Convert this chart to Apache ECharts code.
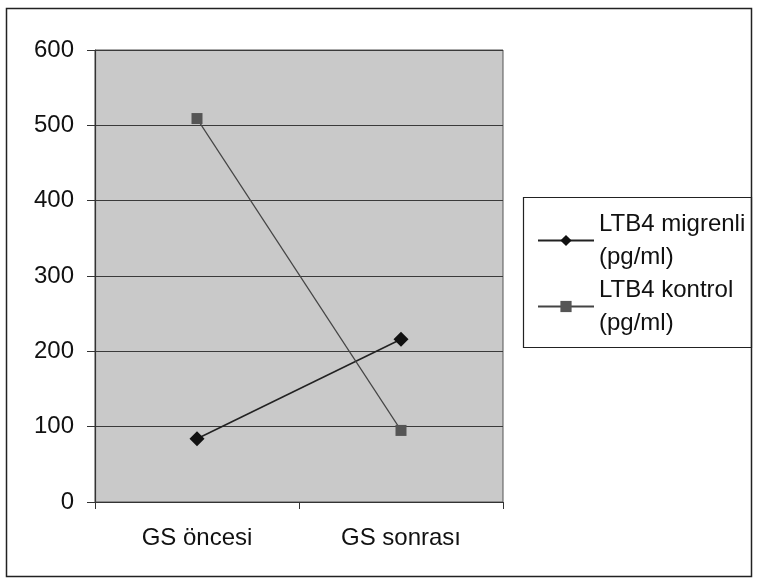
<!DOCTYPE html>
<html>
<head>
<meta charset="utf-8">
<script src="https://cdn.jsdelivr.net/npm/echarts@6/dist/echarts.min.js"></script>
<style>
  html, body { margin: 0; padding: 0; background: #fff; }
  #main { width: 759px; height: 582px; }
</style>
</head>
<body>
<div id="main"></div>
<script>
// veriler
var categories = ['GS öncesi', 'GS sonrası'];
var migrenli = [84, 216];
var kontrol = [509, 95];
var seriesNames = ['LTB4 migrenli\n(pg/ml)', 'LTB4 kontrol\n(pg/ml)'];

var chart = echarts.init(document.getElementById('main'));
var font = 'Liberation Sans, Arial, sans-serif';

chart.setOption({
  animation: false,
  backgroundColor: '#fff',
  textStyle: { fontFamily: font },
  grid: { left: 95, right: 256, top: 50, bottom: 80, show: true, backgroundColor: '#c9c9c9', borderWidth: 1, borderColor: '#555' },
  // dış çerçeve ve lejant kutusu
  graphic: [
    { type: 'rect', shape: { x: 6.5, y: 8.5, width: 745, height: 568 }, style: { fill: null, stroke: '#222', lineWidth: 1.5 }, z: -1 },
    { type: 'rect', shape: { x: 523.5, y: 197.5, width: 228, height: 150 }, style: { fill: null, stroke: '#222', lineWidth: 1.2 } }
  ],
  legend: {
    orient: 'vertical',
    left: 532,
    top: 186,
    itemWidth: 56,
    itemHeight: 14,
    itemGap: -33,
    textStyle: { fontSize: 24, lineHeight: 33, color: '#111', fontFamily: font, padding: [33, 0, 0, 0] },
    itemTextGap: 6,
    data: seriesNames
  },
  xAxis: {
    type: 'category',
    data: categories,
    boundaryGap: true,
    axisLine: { lineStyle: { color: '#333', width: 1.2 } },
    axisTick: { show: true, length: 7, lineStyle: { color: '#333' } },
    axisLabel: { fontSize: 24, color: '#111', margin: 24, fontFamily: font }
  },
  yAxis: {
    type: 'value',
    min: 0,
    max: 600,
    interval: 100,
    axisLine: { show: true, lineStyle: { color: '#333', width: 1.2 } },
    axisTick: { show: true, length: 8, lineStyle: { color: '#333' } },
    axisLabel: { fontSize: 24, color: '#111', margin: 21, fontFamily: font },
    splitLine: { lineStyle: { color: '#3a3a3a', width: 1.2 } }
  },
  series: [
    {
      name: seriesNames[0],
      type: 'line',
      data: migrenli,
      symbol: 'diamond',
      symbolSize: 15,
      itemStyle: { color: '#111' },
      lineStyle: { color: '#222', width: 1.5 }
    },
    {
      name: seriesNames[1],
      type: 'line',
      data: kontrol,
      symbol: 'rect',
      symbolSize: 11,
      itemStyle: { color: '#555' },
      lineStyle: { color: '#444', width: 1.2 }
    }
  ]
});
</script>
</body>
</html>
